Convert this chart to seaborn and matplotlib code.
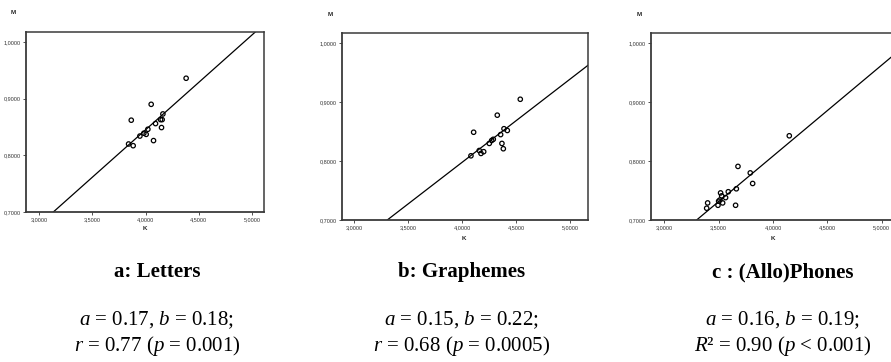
import matplotlib
matplotlib.use("Agg")
import matplotlib.pyplot as plt
import seaborn as sns
import pandas as pd

# ---------------- data ----------------
letters_k = [4.381, 4.053, 3.866, 4.163, 4.141, 4.156, 4.094, 4.150, 4.022, 3.984, 4.006, 3.947, 3.841, 3.884, 4.075]
letters_m = [0.936, 0.890, 0.862, 0.873, 0.863, 0.863, 0.856, 0.849, 0.846, 0.839, 0.837, 0.834, 0.820, 0.817, 0.826]

graphemes_k = [4.537, 4.324, 4.105, 4.386, 4.417, 4.355, 4.287, 4.272, 4.250, 4.367, 4.380, 4.157, 4.198, 4.173, 4.080]
graphemes_m = [0.905, 0.878, 0.849, 0.855, 0.852, 0.845, 0.837, 0.835, 0.830, 0.830, 0.821, 0.818, 0.816, 0.813, 0.809]

phones_k = [4.150, 3.678, 3.791, 3.813, 3.663, 3.589, 3.518, 3.528, 3.564, 3.512, 3.500, 3.537, 3.399, 3.494, 3.656, 3.390]
phones_m = [0.843, 0.791, 0.780, 0.762, 0.753, 0.748, 0.746, 0.741, 0.738, 0.734, 0.732, 0.729, 0.729, 0.725, 0.725, 0.720]

fit_intercepts = [0.175, 0.233, 0.1905]
fit_slopes = [0.1675, 0.1413, 0.1545]

x_ticks = [3.0, 3.5, 4.0, 4.5, 5.0]
y_ticks = [0.7, 0.8, 0.9, 1.0]
x_tick_labels = ["3,0000", "3,5000", "4,0000", "4,5000", "5,0000"]
y_tick_labels = ["0,7000", "0,8000", "0,9000", "1,0000"]

titles = ["a: Letters", "b: Graphemes", "c : (Allo)Phones"]
line1 = [r"$a$ = 0.17, $b$ = 0.18;", r"$a$ = 0.15, $b$ = 0.22;", r"$a$ = 0.16, $b$ = 0.19;"]
line2 = [r"$r$ = 0.77 ($p$ = 0.001)", r"$r$ = 0.68 ($p$ = 0.0005)", r"$R$² = 0.90 ($p$ < 0.001)"]

# ---------------- figure ----------------
sns.set_theme(style="white")
plt.rcParams["font.family"] = ["Liberation Sans", "DejaVu Sans"]
plt.rcParams["text.color"] = "black"
plt.rcParams["mathtext.fontset"] = "custom"
plt.rcParams["mathtext.it"] = "Liberation Serif:italic"
plt.rcParams["mathtext.rm"] = "Liberation Serif"

W, H = 891, 362
fig = plt.figure(figsize=(W / 100, H / 100), dpi=100)

def px_axes(l, t, r, b):
    return fig.add_axes([l / W, 1 - b / H, (r - l) / W, (b - t) / H])

boxes = [(26, 32, 264, 212), (341.7, 33.3, 588.3, 220), (651, 33.3, 893, 220)]
xlims = [(2.878, 5.112), (2.883, 5.167), (2.878, 5.104)]
ylims = [(0.7, 1.0176), (0.7, 1.017), (0.7, 1.017)]
datasets = [(letters_k, letters_m), (graphemes_k, graphemes_m), (phones_k, phones_m)]
m_pos = [(12.7, 12), (330, 15), (639, 15)]
k_pos = [(145, 229), (464, 238), (773, 238)]
text_cx = [157, 462, 783]

for i, (box, (kx, my)) in enumerate(zip(boxes, datasets)):
    ax = px_axes(*box)
    df = pd.DataFrame({"K": kx, "M": my})
    sns.scatterplot(data=df, x="K", y="M", ax=ax, marker="o", s=10,
                    facecolor="none", edgecolor="black", linewidth=0.9, zorder=3)
    ax.axline((0, fit_intercepts[i]), slope=fit_slopes[i], color="black", lw=0.9, zorder=2)
    ax.set_xlim(*xlims[i])
    ax.set_ylim(*ylims[i])
    ax.set_xticks(x_ticks)
    ax.set_xticklabels(x_tick_labels)
    ax.set_yticks(y_ticks)
    ax.set_yticklabels(y_tick_labels)
    ax.tick_params(axis="both", which="both", length=2, width=0.6, pad=1.5,
                   labelsize=4, colors="#333333", direction="out",
                   bottom=True, left=True)
    ax.set_xlabel("")
    ax.set_ylabel("")
    for name, sp in ax.spines.items():
        sp.set_visible(True)
        sp.set_color("#3a3a3a")
        sp.set_linewidth(1.3 if name in ("left", "bottom") else 1.1)
    if i == 2:
        ax.spines["right"].set_visible(False)
    fig.text(m_pos[i][0] / W, 1 - m_pos[i][1] / H, "M", fontsize=4.5,
             fontweight="bold", ha="center", va="center", color="#222222")
    fig.text(k_pos[i][0] / W, 1 - k_pos[i][1] / H, "K", fontsize=4.5,
             fontweight="bold", ha="center", va="center", color="#222222")
    fig.text(text_cx[i] / W, 1 - 272 / H, titles[i], fontsize=15,
             fontweight="bold", family="Liberation Serif", ha="center", va="center",
             color="black")
    fig.text(text_cx[i] / W, 1 - 320 / H, line1[i], fontsize=15,
             family="Liberation Serif", ha="center", va="center", color="black")
    fig.text(text_cx[i] / W, 1 - 346 / H, line2[i], fontsize=15,
             family="Liberation Serif", ha="center", va="center", color="black")

fig.savefig("out.png", dpi=100)
